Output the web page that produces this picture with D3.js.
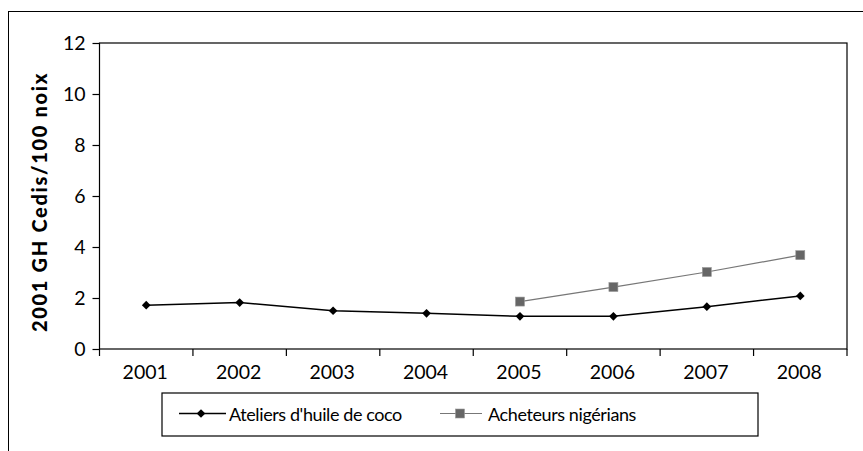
<!DOCTYPE html>
<html>
<head>
<meta charset="utf-8">
<script src="https://cdn.jsdelivr.net/npm/d3@7"></script>
<style>
  body { margin: 0; background: #fff; }
  text { font-family: Lato, "Open Sans", sans-serif; fill: #000; }
</style>
</head>
<body>
<div id="chart"></div>
<script>
var years = ["2001", "2002", "2003", "2004", "2005", "2006", "2007", "2008"];
var ateliers = [1.72, 1.82, 1.5, 1.4, 1.28, 1.28, 1.66, 2.08];
var acheteurs = [null, null, null, null, 1.86, 2.43, 3.02, 3.68];
var yTicks = [0, 2, 4, 6, 8, 10, 12];
var seriesNames = ["Ateliers d'huile de coco", "Acheteurs nigérians"];

var width = 863, height = 451;
var mLeft = 99.5, mRight = 847, mTop = 43, mBottom = 349;

var svg = d3.select("#chart").append("svg").attr("width", width).attr("height", height);

// cadre extérieur (coupé à droite et en bas)
svg.append("line").attr("x1", 8).attr("y1", 11.5).attr("x2", width).attr("y2", 11.5).attr("stroke", "#000").attr("stroke-width", 1);
svg.append("line").attr("x1", 8.5).attr("y1", 11).attr("x2", 8.5).attr("y2", height).attr("stroke", "#000").attr("stroke-width", 1);

var x = d3.scaleBand().domain(years).range([mLeft, mRight]);
var y = d3.scaleLinear().domain([0, 12]).range([mBottom, mTop]);

// zone du graphe
svg.append("rect").attr("x", mLeft).attr("y", mTop).attr("width", mRight - mLeft).attr("height", mBottom - mTop)
  .attr("fill", "none").attr("stroke", "#000").attr("stroke-width", 1.2);

// axe y
var yAxis = svg.append("g").attr("transform", "translate(" + mLeft + ",0)")
  .call(d3.axisLeft(y).tickValues(yTicks).tickSize(7).tickPadding(7));
yAxis.select(".domain").remove();
yAxis.selectAll("line").attr("stroke", "#000").attr("stroke-width", 1.2);
yAxis.selectAll("text").attr("font-size", 19.5).attr("font-family", "Lato, sans-serif");

// axe x : graduations entre les catégories
var xAxis = svg.append("g").attr("transform", "translate(0," + mBottom + ")");
var edges = years.map(function(d) { return x(d); }).concat([mRight]);
xAxis.selectAll(".tk").data(edges).enter().append("line")
  .attr("x1", function(d) { return d; }).attr("x2", function(d) { return d; })
  .attr("y1", 0).attr("y2", 7).attr("stroke", "#000").attr("stroke-width", 1.2);
xAxis.selectAll(".lbl").data(years).enter().append("text")
  .text(function(d) { return d; })
  .attr("x", function(d) { return x(d) + x.bandwidth() / 2 - 1; })
  .attr("y", 30).attr("text-anchor", "middle").attr("font-size", 19.5);

// titre axe y
svg.append("text").text("2001 GH Cedis/100 noix")
  .attr("transform", "translate(46.5,202) rotate(-90)")
  .attr("text-anchor", "middle").attr("font-size", 20).attr("font-weight", "900")
  .attr("letter-spacing", 1.7);

var cx = function(i) { return x(years[i]) + x.bandwidth() / 2; };
var line = d3.line().defined(function(d) { return d != null; })
  .x(function(d, i) { return cx(i); }).y(function(d) { return y(d); });

svg.append("path").datum(acheteurs).attr("d", line).attr("fill", "none").attr("stroke", "#777").attr("stroke-width", 1.2);
svg.append("path").datum(ateliers).attr("d", line).attr("fill", "none").attr("stroke", "#000").attr("stroke-width", 1.5);

var diamond = d3.symbol().type(d3.symbolDiamond2).size(48);
function drawDiamond(g, px, py) {
  g.append("path").attr("d", diamond()).attr("transform", "translate(" + px + "," + py + ")").attr("fill", "#000");
}
function drawSquare(g, px, py) {
  g.append("rect").attr("x", px - 4.5).attr("y", py - 4.5).attr("width", 9).attr("height", 9)
    .attr("fill", "#666").attr("stroke", "#999").attr("stroke-width", 0.6);
}

acheteurs.forEach(function(d, i) { if (d != null) drawSquare(svg, cx(i), y(d)); });
ateliers.forEach(function(d, i) { drawDiamond(svg, cx(i), y(d)); });

// légende
var lg = svg.append("g");
lg.append("rect").attr("x", 162).attr("y", 393).attr("width", 596).attr("height", 43)
  .attr("fill", "none").attr("stroke", "#000").attr("stroke-width", 1.2);
var ly = 413.5;
lg.append("line").attr("x1", 179).attr("x2", 226).attr("y1", ly).attr("y2", ly).attr("stroke", "#000").attr("stroke-width", 1.5);
drawDiamond(lg, 201, ly);
lg.append("text").text(seriesNames[0]).attr("x", 229).attr("y", ly + 7).attr("font-size", 18).attr("letter-spacing", -0.4);
lg.append("line").attr("x1", 440).attr("x2", 482).attr("y1", ly).attr("y2", ly).attr("stroke", "#777").attr("stroke-width", 1.2);
drawSquare(lg, 460, ly);
lg.append("text").text(seriesNames[1]).attr("x", 488).attr("y", ly + 7).attr("font-size", 18).attr("letter-spacing", -0.4);
</script>
</body>
</html>
